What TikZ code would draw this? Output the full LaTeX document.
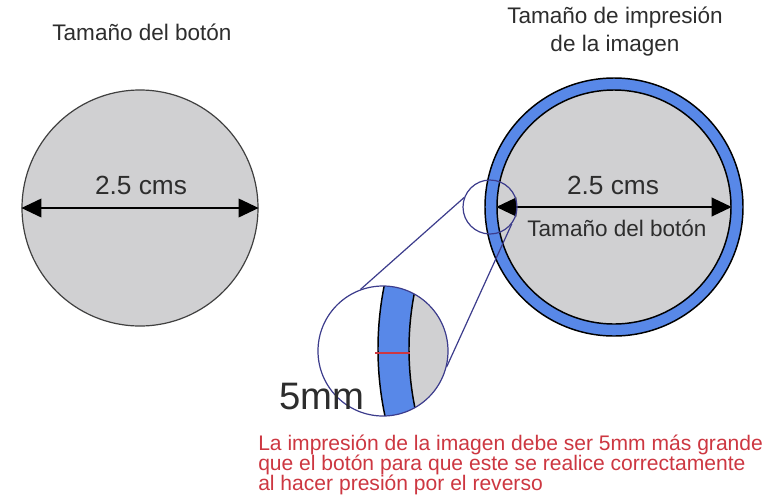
\documentclass[tikz,border=0pt]{standalone}
\usepackage{fontspec}
\setmainfont{Liberation Sans}
\usetikzlibrary{arrows.meta}
\definecolor{btngray}{RGB}{208,208,210}
\definecolor{ringblue}{RGB}{88,136,232}
\definecolor{lensblue}{RGB}{60,60,140}
\definecolor{notered}{RGB}{205,55,65}
\definecolor{txtgray}{RGB}{45,45,45}

\begin{document}
\begin{tikzpicture}[x=0.75pt,y=-0.75pt,
    every node/.style={inner sep=0pt,text=txtgray},
    disc/.style={circle,draw,minimum size=#1},
    lbl/.style={font=\fontsize{16.9}{21}\selectfont,align=center},
    cms/.style={font=\fontsize{19.7}{22}\selectfont},
    dim/.style={<->,>={Triangle[length=15pt,width=14pt]},line width=1.1pt}]
  \useasboundingbox[fill=white] (0,0) rectangle (765,501);
  % boton
  \node[lbl] (t1) at (142,32) {Tamaño del botón};
  \node[disc=177pt,fill=btngray,draw=black!75,line width=0.9pt] (btn) at (140,208) {};
  \draw[dim] (btn.west) -- (btn.east);
  \node[cms] (w1) at (141,185) {2.5 cms};
  % impresion
  \node[lbl] (t2) at (615,32) {Tamaño de impresión\\de la imagen};
  \node[disc=193.5pt,fill=ringblue,line width=1.1pt] (ring) at (614,207) {};
  \node[disc=175.5pt,fill=btngray,line width=1.1pt] (img) at (614,207) {};
  \draw[dim] (img.west) -- (img.east);
  \node[cms] (w2) at (613,185) {2.5 cms};
  \node[lbl] (t3) at (617,228) {Tamaño del botón};
  % lupa
  \node[disc=40.5pt,draw=lensblue,line width=0.9pt] (lens) at (490,207) {};
  \begin{scope}
    \clip (383,351) circle (48.75pt);
    \fill[white] (383,351) circle (48.75pt);
    \filldraw[fill=ringblue,line width=1.1pt] (700,349) circle (241.5pt);
    \filldraw[fill=btngray,line width=1.1pt] (700,349) circle (218.25pt);
    \draw[notered,line width=2.2pt] (375,353) -- (410,353);
  \end{scope}
  \node[disc=97.5pt,draw=lensblue,line width=0.9pt] (mag) at (383,351) {};
  \draw[lensblue,line width=0.9pt] (mag.110) -- (lens.160);
  \draw[lensblue,line width=0.9pt] (mag.-14) -- (lens.-38);
  \node[font=\fontsize{28.7}{30}\selectfont] (mm) at (322,397) {5mm};
  \node[anchor=north west,align=left,text=notered,font=\fontsize{15.8}{15}\selectfont] (nota) at (258,435)
    {La impresión de la imagen debe ser 5mm más grande\\que el botón para que este se realice correctamente\\al hacer presión por el reverso};
\end{tikzpicture}
\end{document}
